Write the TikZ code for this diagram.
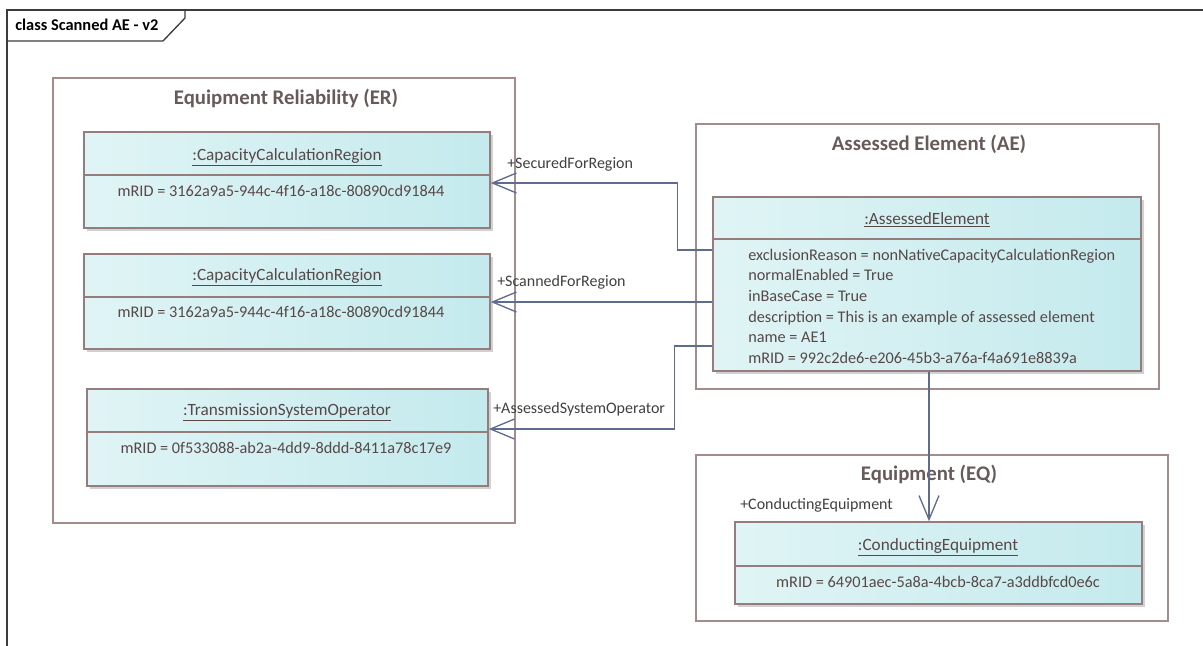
\documentclass[tikz,border=0pt]{standalone}
\usepackage{fontspec}
\setmainfont{Carlito}
\usetikzlibrary{arrows.meta, positioning, fit, shadows}
\definecolor{pkgline}{RGB}{165,140,140}
\definecolor{objline}{RGB}{150,125,125}
\definecolor{objtext}{RGB}{88,72,72}
\definecolor{objleft}{RGB}{224,244,245}
\definecolor{objright}{RGB}{196,234,237}
\definecolor{assocblue}{RGB}{96,108,142}
\definecolor{frameline}{RGB}{60,60,60}

\begin{document}
\begin{tikzpicture}[x=0.75pt, y=-0.75pt,
  pkg/.style={draw=pkgline, line width=1pt, inner sep=0pt},
  pkgtitle/.style={font=\fontsize{15.6}{18}\selectfont\bfseries, text=objtext!90},
  obj/.style={draw=objline, line width=1.1pt, inner sep=0pt, left color=objleft, right color=objright,
    drop shadow={shadow xshift=2.5pt, shadow yshift=-2.5pt, fill=black, opacity=0.18}},
  objsep/.style={draw=objline, line width=0.9pt},
  objname/.style={font=\fontsize{12.9}{15}\selectfont, text=objtext},
  attr/.style={font=\fontsize{12.2}{14}\selectfont, text=objtext, inner sep=0pt},
  assoc/.style={draw=assocblue, line width=1pt, -{Straight Barb[length=18pt, width=15pt, line width=1pt]}},
  rolelabel/.style={font=\fontsize{12}{14}\selectfont, text=black!75, anchor=west, inner sep=0pt}
]
  \useasboundingbox (0,0) rectangle (1203,646);

  % Frame
  \draw[frameline, line width=1pt] (7,646) -- (7,10) -- (1203,10);
  \draw[frameline, line width=1pt] (7,41) -- (163,41) -- (185,18) -- (185,10);
  \node[font=\fontsize{12.3}{14}\selectfont\bfseries, anchor=west, inner sep=0pt] (frametitle) at (15,25) {class Scanned AE - v2};

  % Packages
  \node[pkg, fit={(53,78) (515,523)}] (er) {};
  \node[pkgtitle] (ertitle) at (286,98) {Equipment Reliability (ER)};
  \node[pkg, fit={(696,124) (1159,389)}] (aepkg) {};
  \node[pkgtitle] (aetitle) at (929,144) {Assessed Element (AE)};
  \node[pkg, fit={(696,455) (1168,621)}] (eq) {};
  \node[pkgtitle] (eqtitle) at (929,474) {Equipment (EQ)};

  % Equipment Reliability objects
  \node[obj, fit={(84,132) (490,228)}] (ccrA) {};
  \draw[objsep] (ccrA.west |- 0,175) -- (ccrA.east |- 0,175);
  \node[objname] (ccrAname) at (287,157) {\underline{:CapacityCalculationRegion}};
  \node[attr] (ccrAmrid) at (281,191) {mRID = 3162a9a5-944c-4f16-a18c-80890cd91844};

  \node[obj, fit={(84,254) (490,349)}] (ccrB) {};
  \draw[objsep] (ccrB.west |- 0,297) -- (ccrB.east |- 0,297);
  \node[objname] (ccrBname) at (287,277) {\underline{:CapacityCalculationRegion}};
  \node[attr] (ccrBmrid) at (281,312) {mRID = 3162a9a5-944c-4f16-a18c-80890cd91844};

  \node[obj, fit={(87,389) (488,486)}] (tso) {};
  \draw[objsep] (tso.west |- 0,432) -- (tso.east |- 0,432);
  \node[objname] (tsoname) at (287,412) {\underline{:TransmissionSystemOperator}};
  \node[attr] (tsomrid) at (286,448) {mRID = 0f533088-ab2a-4dd9-8ddd-8411a78c17e9};

  % Assessed Element object
  \node[obj, fit={(713,197) (1141,371)}] (ae) {};
  \draw[objsep] (ae.west |- 0,239) -- (ae.east |- 0,239);
  \node[objname] (aename) at (927,220) {\underline{:AssessedElement}};
  \node[attr, anchor=base west] (aeexcl) at (748,260) {exclusionReason = nonNativeCapacityCalculationRegion};
  \node[attr, anchor=base west] (aenorm) at (748,280.7) {normalEnabled = True};
  \node[attr, anchor=base west] (aebase) at (748,301.4) {inBaseCase = True};
  \node[attr, anchor=base west] (aedesc) at (748,322.1) {description = This is an example of assessed element};
  \node[attr, anchor=base west] (aenm) at (748,342.8) {name = AE1};
  \node[attr, anchor=base west] (aemrid) at (748,363.5) {mRID = 992c2de6-e206-45b3-a76a-f4a691e8839a};

  % Equipment object
  \node[obj, fit={(735,522) (1142,604)}] (ce) {};
  \draw[objsep] (ce.west |- 0,566) -- (ce.east |- 0,566);
  \node[objname] (cename) at (938,547) {\underline{:ConductingEquipment}};
  \node[attr] (cemrid) at (938,582) {mRID = 64901aec-5a8a-4bcb-8ca7-a3ddbfcd0e6c};

  % Associations
  \draw[assoc] (ae.west |- 0,250) -- ++(-35,0) |- (ccrA.east |- 0,183);
  \draw[assoc] (ae.west |- 0,302) -- (ccrB.east |- 0,302);
  \draw[assoc] (ae.west |- 0,346) -- ++(-38,0) |- (tso.east |- 0,429);
  \draw[assoc] (ae.south -| 929,0) -- (ce.north -| 929,0);

  % Role labels
  \node[rolelabel] (secured) at (507,164) {+SecuredForRegion};
  \node[rolelabel] (scanned) at (497,282) {+ScannedForRegion};
  \node[rolelabel] (assessed) at (493,409) {+AssessedSystemOperator};
  \node[rolelabel] (conducting) at (740,505) {+ConductingEquipment};
\end{tikzpicture}
\end{document}
